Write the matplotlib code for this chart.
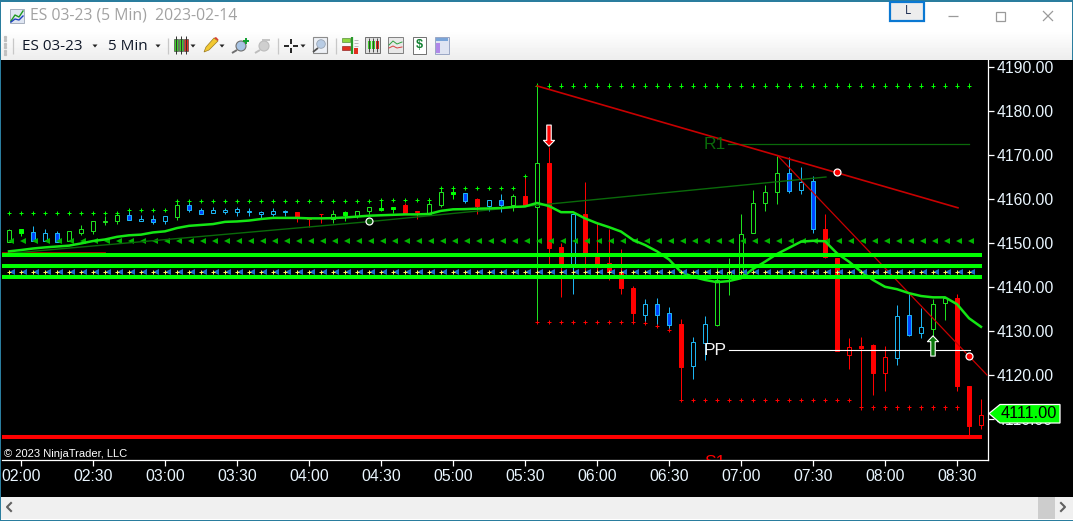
import matplotlib
matplotlib.use("Agg")
import matplotlib.pyplot as plt
from matplotlib.patches import Rectangle, Polygon, Circle
import numpy as np

W, H = 1073, 521

# candles, 5 min bars, first one is 01:55
bar_high = [4153.2, 4153.2, 4153.9, 4153.2, 4152.7, 4152.7, 4154.1, 4155.1, 4156.1, 4157.0,
            4157.3, 4156.4, 4156.4, 4156.1, 4159.8, 4159.3, 4158.0, 4158.1, 4157.9, 4158.2,
            4158.0, 4157.3, 4158.0, 4157.5, 4157.0, 4155.6, 4156.6, 4157.5, 4157.3, 4157.2,
            4158.1, 4159.8, 4158.1, 4159.2, 4157.2, 4160.2, 4162.8, 4163.0, 4161.4, 4160.2,
            4159.7, 4161.1, 4161.1, 4165.1, 4185.7, 4171.9, 4150.0, 4156.6, 4163.9, 4154.6,
            4153.2, 4148.6, 4140.2, 4137.3, 4137.5, 4135.4, 4132.7, 4128.6, 4133.4, 4144.3,
            4146.7, 4156.6, 4162.0, 4163.2, 4169.8, 4169.5, 4167.2, 4165.2, 4156.7, 4146.7,
            4128.4, 4128.6, 4127.0, 4126.6, 4135.9, 4138.7, 4135.2, 4137.3, 4137.8, 4138.4,
            4117.5, 4114.5]
body_top = [4153.0, 4153.1, 4152.4, 4152.2, 4152.3, 4152.7, 4153.1, 4154.9, 4155.0, 4156.4,
            4156.3, 4155.5, 4155.4, 4156.1, 4158.6, 4158.6, 4157.4, 4157.4, 4157.5, 4157.7,
            4157.3, 4157.0, 4157.2, 4157.3, 4157.0, 4155.6, 4156.6, 4156.7, 4157.0, 4157.2,
            4158.1, 4158.0, 4158.1, 4158.6, 4157.2, 4158.8, 4161.7, 4161.7, 4161.3, 4159.9,
            4159.7, 4159.7, 4160.6, 4160.7, 4168.1, 4168.1, 4149.1, 4156.5, 4156.5, 4146.9,
            4145.5, 4143.5, 4139.8, 4136.1, 4136.1, 4134.0, 4131.6, 4127.4, 4131.5, 4141.6,
            4143.4, 4152.0, 4159.0, 4161.7, 4165.8, 4165.8, 4163.8, 4164.0, 4153.1, 4146.7,
            4126.4, 4126.6, 4126.8, 4124.2, 4133.3, 4133.6, 4131.0, 4136.1, 4137.6, 4137.5,
            4117.5, 4111.0]
body_bot = [4150.3, 4152.3, 4150.5, 4150.5, 4150.3, 4150.5, 4152.3, 4152.8, 4154.8, 4155.1,
            4155.3, 4155.1, 4154.8, 4155.1, 4156.0, 4157.6, 4156.7, 4156.9, 4157.1, 4157.1,
            4157.0, 4156.6, 4156.7, 4157.1, 4155.8, 4155.5, 4156.5, 4155.4, 4156.4, 4156.1,
            4157.3, 4157.5, 4157.8, 4156.7, 4157.1, 4156.6, 4158.6, 4161.1, 4159.6, 4158.4,
            4158.5, 4158.7, 4158.6, 4158.6, 4158.1, 4148.9, 4145.3, 4144.5, 4147.7, 4145.2,
            4143.5, 4139.8, 4134.0, 4133.7, 4133.7, 4131.4, 4121.8, 4122.1, 4127.3, 4131.4,
            4142.0, 4142.3, 4152.3, 4159.2, 4161.7, 4161.9, 4162.1, 4153.1, 4146.8, 4125.5,
            4124.6, 4126.2, 4120.5, 4120.5, 4123.9, 4129.2, 4129.6, 4130.4, 4136.3, 4117.6,
            4108.5, 4108.6]
bar_low = [4150.3, 4151.6, 4150.5, 4150.5, 4150.2, 4150.5, 4151.8, 4152.0, 4154.1, 4154.3,
           4155.2, 4155.1, 4154.3, 4154.3, 4155.2, 4157.1, 4156.7, 4156.9, 4156.6, 4156.1,
           4156.2, 4155.5, 4156.2, 4156.1, 4154.8, 4153.7, 4154.5, 4154.5, 4155.1, 4155.6,
           4156.6, 4157.2, 4156.9, 4156.7, 4155.4, 4156.4, 4158.1, 4160.0, 4159.2, 4156.6,
           4157.3, 4157.1, 4157.3, 4158.6, 4132.0, 4144.8, 4137.8, 4138.4, 4143.9, 4142.0,
           4141.6, 4138.4, 4132.0, 4131.7, 4131.1, 4130.2, 4114.3, 4119.1, 4123.4, 4131.1,
           4138.2, 4142.0, 4152.3, 4157.3, 4158.9, 4161.3, 4161.1, 4152.2, 4146.5, 4125.5,
           4121.4, 4112.6, 4115.4, 4116.4, 4122.3, 4128.9, 4128.4, 4128.9, 4132.5, 4116.4,
           4106.0, 4107.7]
# u up hollow, g up filled, r down filled, h down hollow, b blue filled, c cyan hollow
bar_kind = ["u", "g", "b", "c", "b", "u", "u", "u", "u", "u",
            "b", "c", "b", "c", "u", "b", "b", "c", "c", "c",
            "c", "c", "c", "c", "r", "h", "h", "u", "g", "u",
            "u", "g", "g", "r", "h", "u", "u", "g", "b", "r",
            "c", "b", "u", "r", "u", "r", "r", "c", "r", "r",
            "r", "r", "r", "c", "b", "b", "r", "c", "c", "u",
            "u", "u", "u", "u", "u", "b", "c", "b", "r", "r",
            "h", "r", "r", "h", "c", "b", "c", "u", "u", "r",
            "r", "h"]

ema = [4148.1, 4148.4, 4148.75, 4149.0, 4149.2, 4149.4, 4149.9, 4150.45, 4150.8, 4151.4,
       4151.75, 4151.9, 4152.4, 4152.65, 4153.4, 4153.9, 4154.1, 4154.3, 4154.8, 4154.9,
       4155.1, 4155.45, 4155.7, 4155.7, 4155.7, 4155.6, 4155.6, 4155.65, 4155.8, 4156.0,
       4156.2, 4156.3, 4156.4, 4156.5, 4156.5, 4156.6, 4157.3, 4157.65, 4157.7, 4157.8,
       4157.85, 4157.95, 4158.2, 4158.3, 4159.1, 4158.4, 4157.0, 4157.0, 4155.6, 4154.5,
       4153.6, 4152.6, 4150.7, 4149.55, 4148.1, 4146.25, 4143.4, 4142.3, 4141.6, 4141.1,
       4141.35, 4142.0, 4144.1, 4145.75, 4147.5, 4148.9, 4150.3, 4150.5, 4150.4, 4147.65,
       4145.75, 4143.5, 4141.6, 4140.05, 4139.5, 4138.6, 4137.95, 4137.65, 4137.65, 4136.1,
       4132.9, 4130.95]

# dotted swing levels, one per bar
swing_high = [4156.75] * 10 + [4157.5] * 4 + [4159.5] * 17 + [4159.75] * 5 + [4162.5] * 7 + [4165.25] + [4185.75] * 37
swing_low = [4132.0] * 9 + [4131.75, 4131.1, 4130.2] + [4114.3] * 15 + [4112.65] * 9
row_green_tri = 4150.5
row_white = 4143.4

green_levels = [4147.3, 4144.85, 4142.3]
s1_level = 4105.9
last_price = 4111.00

# drawn lines: (minutes from 02:00, price)
dim_trend = [(-7.9, 4147.5), (145, 4154.85), (335.4, 4165.0)]
red_trend_a = [(215, 4185.7), (390.4, 4158.0)]
red_trend_b = [(315.4, 4169.8), (402.5, 4120.0)]
r1_line = [(294.6, 4172.4), (395, 4172.4)]
pp_line = [(295, 4125.6), (395.4, 4125.6)]
red_stub = [(-7.9, 4147.95), (35, 4147.95)]

time_labels = ["02:00", "02:30", "03:00", "03:30", "04:00", "04:30", "05:00",
               "05:30", "06:00", "06:30", "07:00", "07:30", "08:00", "08:30"]
price_ticks = [4110, 4120, 4130, 4140, 4150, 4160, 4170, 4180, 4190]

GREEN = "#1fe01f"
LIME = "#00ff00"
RED = "#ff0000"
CYAN = "#1cb4f0"
BLUE = "#0044ff"
TEAL = "#2a7d9e"
PX = 0.72  # one pixel in points

plt.rcParams["font.family"] = ["Liberation Sans", "DejaVu Sans"]
fig = plt.figure(figsize=(W / 100, H / 100), dpi=100, facecolor="white")

# window frame, in pixels
ui = fig.add_axes([0, 0, 1, 1], zorder=0)
ui.axis("off")


def box(x0, y0, x1, y1, fc, ec="none", lw=0):
    ui.add_patch(Rectangle((x0, y0), x1 - x0, y1 - y0, fc=fc, ec=ec, lw=lw))


def seg(xs, ys, c, lw=0.8):
    ui.plot(xs, ys, color=c, lw=lw, solid_capstyle="butt")


def dropdown(x, y=46):
    ui.add_patch(Polygon([(x - 2.5, y - 1.5), (x + 2.5, y - 1.5), (x, y + 1.5)], fc="#222222", ec="none"))


grad = np.linspace(1, 0.93, 30)[:, None]
ui.imshow(grad, extent=(0, W, 60, 30), cmap="gray", vmin=0, vmax=1, aspect="auto", zorder=0)
ui.set_xlim(0, W)
ui.set_ylim(H, 0)
box(0, 60, W, 497, "black")
box(0, 497, W, 519, "#f0f0f0")
box(1038, 497, 1055, 519, "#cdcdcd")
box(0, 0, W, 1.5, TEAL)
box(0, 519.5, W, H, TEAL)
box(0, 0, 1.3, H, TEAL)
box(W - 1, 0, W, 60, TEAL)
ui.plot([11, 7, 11], [503, 507, 511], color="#606060", lw=1.5)
ui.plot([1061, 1065, 1061], [503, 507, 511], color="#606060", lw=1.5)

# title bar
box(10, 9, 24, 23, "#dfe6f2", ec="#8a95a8", lw=0.5)
ui.plot([11, 15, 19, 23], [21, 15, 17, 11], color="#1f9a1f", lw=1)
ui.plot([11, 15, 19, 23], [22, 19, 20, 16], color="#2040c0", lw=1)
ui.text(30, 16, "ES 03-23 (5 Min)  2023-02-14", color="#a2a2a2", fontsize=11.3, family="Open Sans", va="center")
box(890, 2, 924, 20.5, "#ededed", ec="#0a78d2", lw=1.6)
ui.text(907.5, 11, "L", color="#1a2a50", fontsize=8.5, family="Open Sans", ha="center", va="center")
seg([948, 958], [16, 16], "#9a9a9a", 0.9)
ui.add_patch(Rectangle((995.5, 11.5), 9, 9, fc="none", ec="#9a9a9a", lw=0.9))
seg([1043, 1053], [11, 21], "#9a9a9a", 0.9)
seg([1043, 1053], [21, 11], "#9a9a9a", 0.9)

# toolbar
ui.plot([5] * 6, np.arange(37, 55, 3.4), ls="none", marker="s", ms=1.3, color="#c0c0c0")
for sx in [13, 168, 278, 336]:
    seg([sx, sx], [38, 54], "#c8c8c8", 0.9)
ui.text(22, 46, "ES 03-23", color="#101828", fontsize=11, family="Open Sans", va="center")
ui.text(108, 46, "5 Min", color="#101828", fontsize=11, family="Open Sans", va="center")
for dx in [95, 158, 193, 222, 303]:
    dropdown(dx)
# candle icon
for cx, cc in [(176, "#3ecf2a"), (181, "#3ecf2a"), (186, "#e03020")]:
    seg([cx, cx], [36, 54], "#303030", 0.7)
    box(cx - 2, 39, cx + 2, 51, cc, ec="#303030", lw=0.4)
# pencil
ui.add_patch(Polygon([(204, 52), (206, 47), (214, 38), (218, 41), (209, 50)], fc="#f2c831", ec="#9a7a20", lw=0.5))
ui.add_patch(Polygon([(214, 38), (216, 37), (218.5, 39.5), (218, 41)], fc="#d84030", ec="none"))
# zoom in / out
for cx, cc, hc in [(241, "#a8c4e4", "#707070"), (264, "#cfcfcf", "#bdbdbd")]:
    ui.add_patch(Circle((cx, 46), 5, fc=cc, ec=hc, lw=0.8))
    seg([cx - 4, cx - 9], [50, 53], hc, 1.4)
seg([243, 249], [41, 41], "#10a030", 1.4)
seg([246, 246], [38, 44], "#10a030", 1.4)
seg([262, 270], [40, 40], "#c0c0c0", 1.3)
# crosshair
seg([284, 289], [46, 46], "black", 1.2)
seg([293, 298], [46, 46], "black", 1.2)
seg([291, 291], [39, 44], "black", 1.2)
seg([291, 291], [48, 53], "black", 1.2)
# magnify
box(313, 37, 327, 53, "#eef1f6", ec="#8c8c8c", lw=0.8)
ui.add_patch(Circle((321, 44), 4.3, fc="#b8cce4", ec="#9aa6b4", lw=0.6))
seg([318, 313], [48, 52], "#505050", 1.3)
# right group
box(342, 38, 350, 42, "#8fd63f", ec="#3a7a20", lw=0.4)
box(342, 46, 350, 50, "#e03020", ec="#801010", lw=0.4)
seg([352, 352], [37, 54], "#2a9a2a", 1.6)
box(354, 48, 358, 54, "#e03020")
for yy in [40, 43, 46]:
    seg([354, 358], [yy, yy], "#b0b0b0", 0.6)
box(365, 37, 380, 53, "#e0e0e0", ec="#707070", lw=0.7)
for cx, cc in [(369, "#3ecf2a"), (373, "#3ecf2a"), (377, "#e03020")]:
    seg([cx, cx], [38, 52], "#303030", 0.6)
    box(cx - 1.5, 41, cx + 1.5, 49, cc)
box(388, 37, 403, 53, "#e8e8e8", ec="#808080", lw=0.7)
ui.plot([389, 393, 397, 402], [45, 41, 44, 42], color="#30a040", lw=0.7)
ui.plot([389, 393, 397, 402], [48, 46, 48, 47], color="#d84040", lw=0.7)
box(413, 37, 426, 54, "white", ec="#707070", lw=0.7)
ui.text(419.5, 45.5, "$", color="#108030", fontsize=9, weight="bold", ha="center", va="center")
box(435, 37, 449, 54, "#dfe4f2", ec="#9aa6c4", lw=0.7)
box(436, 38, 448, 41, "#7aa4d8")
box(436, 43, 440, 53, "#b088e8")

# chart area
ax = fig.add_axes([2 / W, 1 - 460 / H, 986 / W, 400 / H], zorder=1)
ax.set_facecolor("black")
ax.set_xlim(-7.92, 402.92)
ax.set_ylim(4100.68, 4191.59)
for s in ["left", "top"]:
    ax.spines[s].set_visible(False)
for s in ["right", "bottom"]:
    ax.spines[s].set_color("white")
    ax.spines[s].set_linewidth(0.9)
ax.yaxis.tick_right()
ax.set_yticks(price_ticks)
ax.set_yticklabels(["%.2f" % p for p in price_ticks])
ax.set_xticks(np.arange(len(time_labels)) * 30)
ax.set_xticklabels(time_labels)
ax.tick_params(axis="both", colors="white", length=4.3, width=0.9, labelsize=11.3, pad=2)
for t in ax.get_xticklabels() + ax.get_yticklabels():
    t.set_color("#eaf6ff")


def plus_marks(ts, ys, color, z=3):
    # small crosses, crisp
    ts = np.asarray(ts, dtype=float)
    ys = np.asarray(ys, dtype=float)
    ax.hlines(ys, ts - 0.9, ts + 0.9, color=color, lw=PX, snap=True, zorder=z)
    ax.vlines(ts, ys - 0.5, ys + 0.5, color=color, lw=PX, snap=True, zorder=z)


bar_t = np.arange(len(bar_high)) * 5 - 5
edge = {"u": GREEN, "g": LIME, "r": RED, "h": RED, "b": CYAN, "c": CYAN}
fill = {"u": "black", "g": LIME, "r": RED, "h": "black", "b": BLUE, "c": "black"}
for i in range(len(bar_t)):
    k = bar_kind[i]
    ax.vlines(bar_t[i], bar_low[i], bar_high[i], color=edge[k], lw=PX, snap=True, zorder=2)
    ax.bar(bar_t[i], body_top[i] - body_bot[i], bottom=body_bot[i], width=1.67,
           fc=fill[k], ec=edge[k], lw=PX, snap=True, zorder=2.1)

plus_marks(bar_t[:len(swing_high)], swing_high, LIME)
plus_marks(bar_t[44:44 + len(swing_low)], swing_low, RED)
ax.plot(bar_t[:81] + 0.9, [row_green_tri] * 81, ls="none", marker="<", ms=4.4, mew=0, color="#00b400", zorder=3)

ax.plot(*zip(*dim_trend), color="#0a6a0a", lw=1.0, zorder=3)
ax.plot(*zip(*red_stub), color="#c00000", lw=0.6, zorder=2)
ax.plot(*zip(*red_trend_a), color="#c80000", lw=1.2, zorder=4)
ax.plot(*zip(*red_trend_b), color="#c80000", lw=0.9, zorder=4)
ax.plot(*zip(*r1_line), color="#0a6a0a", lw=0.9, zorder=3)
ax.plot(*zip(*pp_line), color="white", lw=0.8, zorder=4)
ax.plot(bar_t, ema, color="#14e614", lw=1.8, zorder=4)

ax.hlines(green_levels, -7.92, 400.4, color=LIME, lw=2.9, zorder=5)
ax.hlines(s1_level, -7.92, 400.4, color=RED, lw=2.9, zorder=5)

ax.plot(bar_t[:81] + 1.1, [row_white] * 81, ls="none", marker="<", ms=4.4, mew=0, color="#1c6cc8", zorder=6)
plus_marks(bar_t[:81], [row_white] * 81, "#fff25a", z=6)

ax.plot([145], [4154.9], ls="none", marker="o", ms=5, mfc="#0a5a0a", mec="white", mew=0.9, zorder=7)
ax.plot([340.1, 395.1], [4166.1, 4124.25], ls="none", marker="o", ms=5, mfc=RED, mec="white", mew=0.9, zorder=7)

ax.annotate("", xy=(220, 4172.0), xytext=(220, 4176.8), zorder=8,
            arrowprops=dict(width=3.2, headwidth=8, headlength=4.2, shrink=0, fc=RED, ec="white", lw=0.8))
ax.annotate("", xy=(380, 4128.9), xytext=(380, 4124.3), zorder=8,
            arrowprops=dict(width=3.2, headwidth=8, headlength=4.2, shrink=0, fc="#0a780a", ec="white", lw=0.8))

ax.text(284.6, 4172.4, "R1", color="#0a6a0a", fontsize=12.5, va="center", zorder=6)
ax.text(284.6, 4125.6, "PP", color="#f4f4f4", fontsize=12.5, va="center", zorder=6)
ax.text(284.6, 4100.0, "S1", color=RED, fontsize=12.5, va="center", clip_on=True, zorder=6)
ax.text(-7, 4102.0, "\u00a9 2023 NinjaTrader, LLC", color="white", fontsize=8, va="center", zorder=6)

# last price tag, goes over the axis labels
tag = Polygon([(989, 413.5), (1000, 404.5), (1060, 404.5), (1060, 423), (1000, 423)],
              closed=True, fc=LIME, ec="white", lw=0.9, transform=ui.transData, clip_on=False, zorder=9)
ax.add_patch(tag)
ax.text(1000.5, 413.7, "%.2f" % last_price, color="black", fontsize=11.8, va="center",
        transform=ui.transData, clip_on=False, zorder=10)

fig.savefig("out.png", dpi=100, facecolor="white")
